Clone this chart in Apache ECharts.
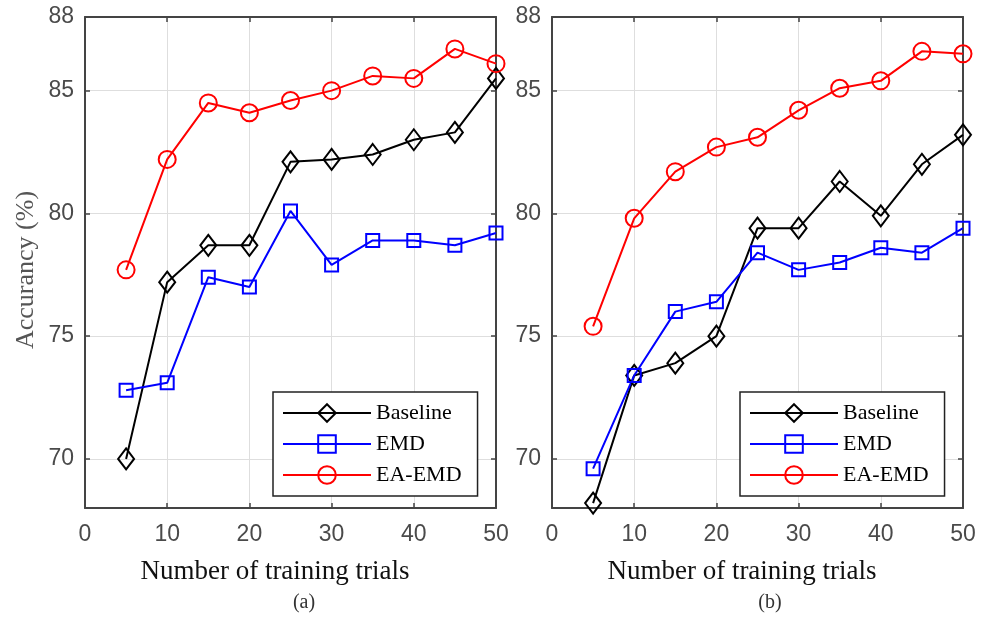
<!DOCTYPE html>
<html>
<head>
<meta charset="utf-8">
<title>Accuracy vs. number of training trials</title>
<script src="https://cdn.jsdelivr.net/npm/echarts@6/dist/echarts.min.js"></script>
<style>
  html, body { margin: 0; padding: 0; background: #fff; }
  #chart { width: 988px; height: 617px; }
</style>
</head>
<body>
<div id="chart"></div>
<script>
// Number of training trials (x positions of every point)
const trials = [5, 10, 15, 20, 25, 30, 35, 40, 45, 50];

// Panel (a) accuracy, %
const aBaseline = [70.0, 77.2, 78.7, 78.7, 82.1, 82.2, 82.4, 83.0, 83.3, 85.5];
const aEMD      = [72.8, 73.1, 77.4, 77.0, 80.1, 77.9, 78.9, 78.9, 78.7, 79.2];
const aEAEMD    = [77.7, 82.2, 84.5, 84.1, 84.6, 85.0, 85.6, 85.5, 86.7, 86.1];

// Panel (b) accuracy, %
const bBaseline = [68.2, 73.4, 73.9, 75.0, 79.4, 79.4, 81.3, 79.9, 82.0, 83.2];
const bEMD      = [69.6, 73.4, 76.0, 76.4, 78.4, 77.7, 78.0, 78.6, 78.4, 79.4];
const bEAEMD    = [75.4, 79.8, 81.7, 82.7, 83.1, 84.2, 85.1, 85.4, 86.6, 86.5];

// Axis ticks
const yTickValues = [70, 75, 80, 85, 88];
const yGridValues = [70, 75, 80, 85];
const xRange = [0, 50];
const yRange = [68, 88];
const seriesNames = ['Baseline', 'EMD', 'EA-EMD'];

const AXIS_COLOR = '#444';
const TICK_FONT = "'Liberation Sans', sans-serif";
const SERIF = "'Liberation Serif', 'Times New Roman', serif";

const grids = [
  { left: 85, top: 17, width: 411, height: 491 },
  { left: 552, top: 17, width: 411, height: 491 }
];

function pairs(ys) { return trials.map((x, i) => [x, ys[i]]); }

const xAxes = [], yAxes = [];
grids.forEach((g, gi) => {
  // bottom axis with labels and grid lines
  xAxes.push({
    type: 'value', gridIndex: gi, min: xRange[0], max: xRange[1], interval: 10,
    position: 'bottom',
    axisLine: { show: true, onZero: false, lineStyle: { color: AXIS_COLOR, width: 2 } },
    axisTick: { show: true, inside: true, length: 5, lineStyle: { color: AXIS_COLOR, width: 1.5 } },
    axisLabel: { margin: 15, color: '#4a4a4a', fontFamily: TICK_FONT, fontSize: 23 },
    splitLine: { show: true, lineStyle: { color: '#dedede', width: 1 } }
  });
  // top edge of the box
  xAxes.push({
    type: 'value', gridIndex: gi, min: xRange[0], max: xRange[1], interval: 10,
    position: 'top',
    axisLine: { show: true, onZero: false, lineStyle: { color: AXIS_COLOR, width: 2 } },
    axisTick: { show: true, inside: true, length: 5, lineStyle: { color: AXIS_COLOR, width: 1.5 } },
    axisLabel: { show: false },
    splitLine: { show: false }
  });
  // left axis with labels
  yAxes.push({
    type: 'value', gridIndex: gi, min: yRange[0], max: yRange[1],
    position: 'left',
    axisLine: { show: true, onZero: false, lineStyle: { color: AXIS_COLOR, width: 2 } },
    axisTick: { show: true, inside: true, length: 5, customValues: yGridValues,
                lineStyle: { color: AXIS_COLOR, width: 1.5 } },
    axisLabel: { margin: 11, color: '#4a4a4a', fontFamily: TICK_FONT, fontSize: 23,
                 customValues: yTickValues },
    splitLine: { show: true, lineStyle: { color: '#dedede', width: 1 } }
  });
  // right edge of the box
  yAxes.push({
    type: 'value', gridIndex: gi, min: yRange[0], max: yRange[1],
    position: 'right',
    axisLine: { show: true, onZero: false, lineStyle: { color: AXIS_COLOR, width: 2 } },
    axisTick: { show: true, inside: true, length: 5, customValues: yGridValues,
                lineStyle: { color: AXIS_COLOR, width: 1.5 } },
    axisLabel: { show: false },
    splitLine: { show: false }
  });
});

const styles = {
  'Baseline': { color: '#000000', symbol: 'diamond', size: [16, 21] },
  'EMD':      { color: '#0000ff', symbol: 'rect', size: 13 },
  'EA-EMD':   { color: '#ff0000', symbol: 'circle', size: 17 }
};

function makeSeries(name, ys, gi) {
  const s = styles[name];
  return {
    name: name, type: 'line', xAxisIndex: gi * 2, yAxisIndex: gi * 2,
    data: pairs(ys),
    symbol: s.symbol, symbolSize: s.size, showSymbol: true,
    clip: false, animation: false,
    lineStyle: { color: s.color, width: 2 },
    itemStyle: { color: 'rgba(255,255,255,0)', borderColor: s.color, borderWidth: 2 },
    emphasis: { disabled: true }
  };
}

const series = [
  makeSeries('Baseline', aBaseline, 0),
  makeSeries('EMD', aEMD, 0),
  makeSeries('EA-EMD', aEAEMD, 0),
  makeSeries('Baseline', bBaseline, 1),
  makeSeries('EMD', bEMD, 1),
  makeSeries('EA-EMD', bEAEMD, 1)
];

function legendAt(left, top) {
  return {
    data: seriesNames, orient: 'vertical', left: left, top: top,
    itemWidth: 88, itemHeight: 22, itemGap: 7,
    padding: [9, 16, 9, 9],
    backgroundColor: '#ffffff', borderColor: '#222', borderWidth: 1.5, borderRadius: 0,
    lineStyle: { width: 2 },
    textStyle: { fontFamily: SERIF, fontSize: 22, lineHeight: 24, color: '#000' },
    selectedMode: false
  };
}

function label(text, x, y, size, color, rot) {
  return {
    type: 'text', x: x, y: y, rotation: rot || 0, silent: true,
    style: {
      text: text, font: size + 'px ' + SERIF, fill: color,
      textAlign: 'center', textVerticalAlign: 'middle',
      align: 'center', verticalAlign: 'middle'
    }
  };
}

const option = {
  backgroundColor: '#ffffff',
  animation: false,
  grid: grids,
  xAxis: xAxes,
  yAxis: yAxes,
  legend: [legendAt(273, 392), legendAt(740, 392)],
  series: series,
  graphic: [
    label('Accurancy (%)', 26, 270, 26, '#555', Math.PI / 2),
    label('Number of training trials', 275, 572, 27, '#111'),
    label('Number of training trials', 742, 572, 27, '#111'),
    label('(a)', 304, 603, 20, '#333'),
    label('(b)', 770, 603, 20, '#333')
  ]
};

const chart = echarts.init(document.getElementById('chart'), null, { renderer: 'canvas' });
chart.setOption(option);
</script>
</body>
</html>
